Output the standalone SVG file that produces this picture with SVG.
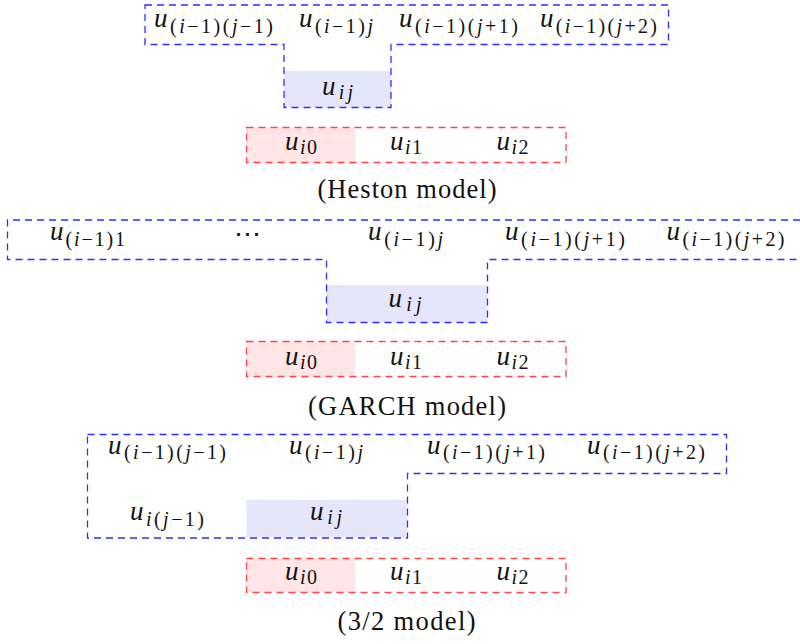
<svg xmlns="http://www.w3.org/2000/svg" width="800" height="644" viewBox="0 0 800 644">
<style>
.bg{fill:#ffffff}
.blue{fill:none;stroke:#2e2eff;stroke-width:1.3;stroke-dasharray:7 5}
.red{fill:none;stroke:#ff4545;stroke-width:1.3;stroke-dasharray:7 5}
.lav{fill:#e5e5fb}
.pink{fill:#ffe5e5}
.m{font-family:"Liberation Serif","DejaVu Serif",serif;font-size:27px;fill:#111111;text-anchor:middle}
.it{font-style:italic}
.sb{font-size:20px}
.cap{font-family:"Liberation Serif","DejaVu Serif",serif;font-size:26.5px;fill:#111111;text-anchor:middle}
</style>
<rect class="bg" x="0" y="0" width="800" height="644"/>

<!-- ===== Heston ===== -->
<g id="heston">
  <g id="heston-frames">
    <rect class="lav" x="284" y="71" width="107" height="36.5"/>
    <rect class="pink" x="246.5" y="127.5" width="108.5" height="35"/>
    <path class="blue" d="M145,5 H668.5 V44.5 H391 V107.5 H284 V44.5 H145 Z"/>
    <rect class="red" x="246.5" y="127.5" width="319.5" height="35"/>
  </g>
  <g id="h-u-im1-jm1"><text class="m" x="213.5" y="27" textLength="119"><tspan class="it">u</tspan><tspan class="sb" dy="5.5">(<tspan class="it">i</tspan>−1)(<tspan class="it">j</tspan>−1)</tspan></text></g>
  <g id="h-u-im1-j"><text class="m" x="336" y="27" textLength="74"><tspan class="it">u</tspan><tspan class="sb" dy="5.5">(<tspan class="it">i</tspan>−1)<tspan class="it">j</tspan></tspan></text></g>
  <g id="h-u-im1-jp1"><text class="m" x="458.5" y="27" textLength="119"><tspan class="it">u</tspan><tspan class="sb" dy="5.5">(<tspan class="it">i</tspan>−1)(<tspan class="it">j</tspan>+1)</tspan></text></g>
  <g id="h-u-im1-jp2"><text class="m" x="598.5" y="27" textLength="117"><tspan class="it">u</tspan><tspan class="sb" dy="5.5">(<tspan class="it">i</tspan>−1)(<tspan class="it">j</tspan>+2)</tspan></text></g>
  <g id="h-u-ij"><text class="m" x="337.5" y="95" textLength="31"><tspan class="it">u</tspan><tspan class="sb it" dy="4">ij</tspan></text></g>
  <g id="h-u-i0"><text class="m" x="301" y="150" textLength="32"><tspan class="it">u</tspan><tspan class="sb" dy="4"><tspan class="it">i</tspan>0</tspan></text></g>
  <g id="h-u-i1"><text class="m" x="406" y="150" textLength="32"><tspan class="it">u</tspan><tspan class="sb" dy="4"><tspan class="it">i</tspan>1</tspan></text></g>
  <g id="h-u-i2"><text class="m" x="512.5" y="150" textLength="32"><tspan class="it">u</tspan><tspan class="sb" dy="4"><tspan class="it">i</tspan>2</tspan></text></g>
  <g id="h-caption"><text class="cap" x="407" y="198" textLength="179">(Heston model)</text></g>
</g>

<!-- ===== GARCH ===== -->
<g id="garch">
  <g id="garch-frames">
    <rect class="lav" x="326.5" y="285" width="161" height="37.5"/>
    <rect class="pink" x="246.5" y="341.5" width="108.5" height="35"/>
    <path class="blue" d="M800,220 H7.5 V259.5 H326.5 V322.5 H487.5 V259.5 H800"/>
    <rect class="red" x="246.5" y="341.5" width="319.5" height="35"/>
  </g>
  <g id="g-u-im1-1"><text class="m" x="87.5" y="240" textLength="75"><tspan class="it">u</tspan><tspan class="sb" dy="5.5">(<tspan class="it">i</tspan>−1)1</tspan></text></g>
  <g id="g-dots"><text class="m" x="247.5" y="243">⋯</text></g>
  <g id="g-u-im1-j"><text class="m" x="405.5" y="240" textLength="75"><tspan class="it">u</tspan><tspan class="sb" dy="5.5">(<tspan class="it">i</tspan>−1)<tspan class="it">j</tspan></tspan></text></g>
  <g id="g-u-im1-jp1"><text class="m" x="565" y="240" textLength="120"><tspan class="it">u</tspan><tspan class="sb" dy="5.5">(<tspan class="it">i</tspan>−1)(<tspan class="it">j</tspan>+1)</tspan></text></g>
  <g id="g-u-im1-jp2"><text class="m" x="725.5" y="240" textLength="118"><tspan class="it">u</tspan><tspan class="sb" dy="5.5">(<tspan class="it">i</tspan>−1)(<tspan class="it">j</tspan>+2)</tspan></text></g>
  <g id="g-u-ij"><text class="m" x="405" y="307" textLength="33"><tspan class="it">u</tspan><tspan class="sb it" dy="4">ij</tspan></text></g>
  <g id="g-u-i0"><text class="m" x="301" y="364.5" textLength="32"><tspan class="it">u</tspan><tspan class="sb" dy="4"><tspan class="it">i</tspan>0</tspan></text></g>
  <g id="g-u-i1"><text class="m" x="406" y="364.5" textLength="32"><tspan class="it">u</tspan><tspan class="sb" dy="4"><tspan class="it">i</tspan>1</tspan></text></g>
  <g id="g-u-i2"><text class="m" x="512.5" y="364.5" textLength="32"><tspan class="it">u</tspan><tspan class="sb" dy="4"><tspan class="it">i</tspan>2</tspan></text></g>
  <g id="g-caption"><text class="cap" x="407" y="415" textLength="198">(GARCH model)</text></g>
</g>

<!-- ===== 3/2 ===== -->
<g id="three-halves">
  <g id="t-frames">
    <rect class="lav" x="246.5" y="500" width="161" height="37.5"/>
    <rect class="pink" x="246.5" y="558.5" width="108.5" height="34"/>
    <path class="blue" d="M87.5,434.5 H726.5 V473.5 H407.5 V538 H87.5 Z"/>
    <rect class="red" x="246.5" y="558.5" width="319.5" height="34"/>
  </g>
  <g id="t-u-im1-jm1"><text class="m" x="167" y="453.5" textLength="118"><tspan class="it">u</tspan><tspan class="sb" dy="5.5">(<tspan class="it">i</tspan>−1)(<tspan class="it">j</tspan>−1)</tspan></text></g>
  <g id="t-u-im1-j"><text class="m" x="326" y="453.5" textLength="74"><tspan class="it">u</tspan><tspan class="sb" dy="5.5">(<tspan class="it">i</tspan>−1)<tspan class="it">j</tspan></tspan></text></g>
  <g id="t-u-im1-jp1"><text class="m" x="486" y="453.5" textLength="118"><tspan class="it">u</tspan><tspan class="sb" dy="5.5">(<tspan class="it">i</tspan>−1)(<tspan class="it">j</tspan>+1)</tspan></text></g>
  <g id="t-u-im1-jp2"><text class="m" x="646" y="453.5" textLength="118"><tspan class="it">u</tspan><tspan class="sb" dy="5.5">(<tspan class="it">i</tspan>−1)(<tspan class="it">j</tspan>+2)</tspan></text></g>
  <g id="t-u-i-jm1"><text class="m" x="167" y="520" textLength="74"><tspan class="it">u</tspan><tspan class="sb" dy="5.5"><tspan class="it">i</tspan>(<tspan class="it">j</tspan>−1)</tspan></text></g>
  <g id="t-u-ij"><text class="m" x="326" y="520" textLength="32"><tspan class="it">u</tspan><tspan class="sb it" dy="4">ij</tspan></text></g>
  <g id="t-u-i0"><text class="m" x="301" y="580" textLength="32"><tspan class="it">u</tspan><tspan class="sb" dy="4"><tspan class="it">i</tspan>0</tspan></text></g>
  <g id="t-u-i1"><text class="m" x="406" y="580" textLength="32"><tspan class="it">u</tspan><tspan class="sb" dy="4"><tspan class="it">i</tspan>1</tspan></text></g>
  <g id="t-u-i2"><text class="m" x="512.5" y="580" textLength="32"><tspan class="it">u</tspan><tspan class="sb" dy="4"><tspan class="it">i</tspan>2</tspan></text></g>
  <g id="t-caption"><text class="cap" x="406.5" y="630" textLength="138">(3/2 model)</text></g>
</g>

<g id="connectors"></g>
</svg>
